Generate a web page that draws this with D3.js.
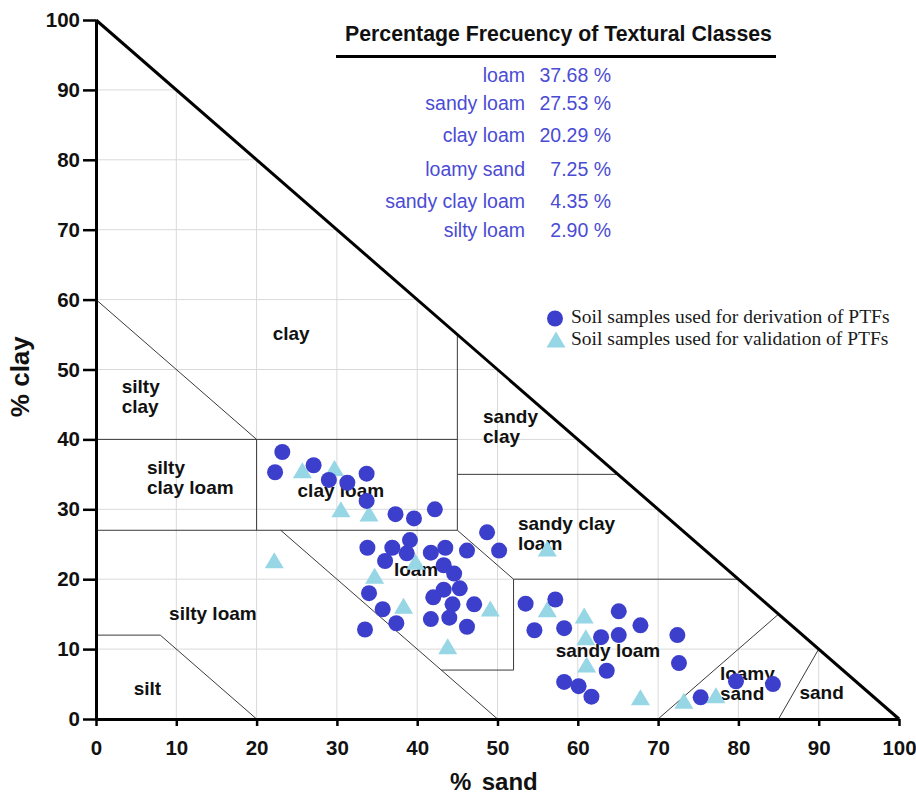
<!DOCTYPE html>
<html>
<head>
<meta charset="utf-8">
<script src="https://cdn.jsdelivr.net/npm/d3@7"></script>
<style>
  html, body { margin: 0; padding: 0; background: #fff; }
  svg { display: block; }
</style>
</head>
<body>
<script>
// ---------------- DATA ----------------
const sandTicks = [0, 10, 20, 30, 40, 50, 60, 70, 80, 90, 100];
const clayTicks = [0, 10, 20, 30, 40, 50, 60, 70, 80, 90, 100];

// Soil samples used for derivation of PTFs (% sand, % clay)
const derivationSand = [23.2, 22.3, 27.1, 29.0, 31.3, 33.7, 33.7, 37.3, 39.6, 42.2, 48.7, 50.2,
  33.8, 36.9, 39.1, 38.7, 36.0, 41.7, 43.5, 46.2, 43.3, 44.6, 43.3, 45.3, 42.0, 44.4, 47.1,
  34.0, 35.7, 37.4, 41.7, 44.0, 46.2, 33.5, 53.5, 57.2, 54.6, 58.3, 65.1, 62.9, 65.1, 67.8,
  72.4, 72.6, 63.6, 58.3, 60.1, 61.7, 75.3, 79.7, 84.3];
const derivationClay = [38.2, 35.3, 36.3, 34.2, 33.8, 35.1, 31.2, 29.3, 28.7, 30.0, 26.7, 24.1,
  24.5, 24.5, 25.6, 23.7, 22.6, 23.8, 24.5, 24.1, 22.0, 20.8, 18.5, 18.7, 17.4, 16.4, 16.4,
  18.0, 15.7, 13.7, 14.3, 14.5, 13.2, 12.8, 16.5, 17.1, 12.7, 13.0, 15.4, 11.7, 12.0, 13.4,
  12.0, 8.0, 6.9, 5.3, 4.7, 3.2, 3.1, 5.4, 5.0];

// Soil samples used for validation of PTFs (% sand, % clay)
const validationSand = [25.7, 29.7, 30.5, 34.0, 22.2, 34.7, 39.8, 38.3, 49.1, 43.8, 56.2, 56.2,
  60.8, 61.0, 61.1, 67.8, 73.2, 77.2];
const validationClay = [35.6, 35.9, 30.0, 29.4, 22.7, 20.5, 22.5, 16.2, 15.8, 10.4, 24.4, 15.7,
  14.8, 11.7, 7.8, 3.1, 2.6, 3.4];

// Percentage frequency of textural classes
const statClasses = ["loam", "sandy loam", "clay loam", "loamy sand", "sandy clay loam", "silty loam"];
const statPercent = [37.68, 27.53, 20.29, 7.25, 4.35, 2.90];

// USDA textural class boundaries, as [sand, clay] vertices
const classBoundaries = [
  [[0, 60], [20, 40]],
  [[0, 40], [45, 40]],
  [[20, 40], [20, 27]],
  [[0, 27], [45, 27]],
  [[45, 27], [45, 55]],
  [[45, 35], [65, 35]],
  [[45, 27], [52, 20]],
  [[52, 20], [80, 20]],
  [[52, 20], [52, 7], [43, 7]],
  [[23, 27], [50, 0]],
  [[0, 12], [8, 12], [20, 0]],
  [[70, 0], [85, 15]],
  [[85, 0], [90, 10]]
];

// Class names written inside the triangle, anchored at [sand, clay]
const classNames = [
  ["clay"], ["silty", "clay"], ["sandy", "clay"], ["silty", "clay loam"], ["clay loam"],
  ["sandy clay", "loam"], ["loam"], ["silty loam"], ["silt"], ["sandy loam"],
  ["loamy", "sand"], ["sand"]
];
const classNameSand = [22.0, 3.2, 48.2, 6.35, 25.1, 52.55, 37.1, 9.1, 4.7, 57.25, 77.7, 87.6];
const classNameClay = [54.2, 46.6, 42.4, 35.05, 31.8, 27.1, 20.4, 14.1, 3.4, 8.8, 5.6, 2.8];

const titleText = "Percentage Frecuency of Textural Classes";
const legendLabels = ["Soil samples used for derivation of PTFs", "Soil samples used for validation of PTFs"];

// ---------------- LAYOUT ----------------
const W = 916, H = 794;
const x = d3.scaleLinear().domain([0, 100]).range([96, 899]);
const y = d3.scaleLinear().domain([0, 100]).range([719, 20]);

const colDeriv = "#3c3ecc";
const colValid = "#96d6e5";
const colStat = "#4b4bd4";
const sansFont = "'Liberation Sans', Arial, Helvetica, sans-serif";
const serifFont = "'Liberation Serif', 'Times New Roman', serif";

const svg = d3.select("body").append("svg")
  .attr("width", W).attr("height", H)
  .attr("viewBox", `0 0 ${W} ${H}`);
svg.append("rect").attr("width", W).attr("height", H).attr("fill", "#fff");

const line = d3.line().x(d => x(d[0])).y(d => y(d[1]));

// Grid clipped to triangle
const gridVals = sandTicks.filter(t => t > 0 && t < 100);
const grid = svg.append("g").attr("stroke", "#d9d9d9").attr("stroke-width", 1).attr("fill", "none");
gridVals.forEach(t => {
  grid.append("path").attr("d", line([[t, 0], [t, 100 - t]]));
  grid.append("path").attr("d", line([[0, t], [100 - t, t]]));
});

// Class boundaries
svg.append("g").selectAll("path").data(classBoundaries).join("path")
  .attr("d", line)
  .attr("fill", "none")
  .attr("stroke", "#3a3a3a")
  .attr("stroke-width", 1);

// Axes
const xAxis = d3.axisBottom(x).tickValues(sandTicks).tickSizeInner(7).tickSizeOuter(0).tickPadding(14)
  .tickFormat(d3.format("d"));
const yAxis = d3.axisLeft(y).tickValues(clayTicks).tickSizeInner(13).tickSizeOuter(0).tickPadding(3)
  .tickFormat(d3.format("d"));

const gx = svg.append("g").attr("transform", `translate(0,${y(0)})`).call(xAxis);
const gy = svg.append("g").attr("transform", `translate(${x(0)},0)`).call(yAxis);
[gx, gy].forEach(g => {
  g.select(".domain").attr("stroke", "#000").attr("stroke-width", 3);
  g.selectAll(".tick line").attr("stroke", "#000").attr("stroke-width", 2.5);
  g.selectAll(".tick text")
    .attr("fill", "#111")
    .style("font-family", sansFont)
    .style("font-weight", "bold")
    .style("font-size", "20.5px");
});

// Hypotenuse
svg.append("path").attr("d", line([[0, 100], [100, 0]]))
  .attr("stroke", "#000").attr("stroke-width", 3).attr("fill", "none");

// Axis titles
svg.append("text")
  .attr("transform", `translate(28.5,${376.7}) rotate(-90)`)
  .attr("text-anchor", "middle")
  .style("font-family", sansFont).style("font-weight", "bold").style("font-size", "26px")
  .attr("fill", "#111")
  .text("% clay");
const xt = svg.append("text")
  .attr("y", 790)
  .style("font-family", sansFont).style("font-weight", "bold").style("font-size", "24px")
  .attr("fill", "#111");
xt.append("tspan").attr("x", 450).text("%");
xt.append("tspan").attr("x", 481.7).text("sand");

// Class names
const cn = svg.append("g")
  .style("font-family", sansFont).style("font-weight", "bold").style("font-size", "19px")
  .attr("fill", "#111");
classNames.forEach((lines, i) => {
  const t = cn.append("text").attr("x", x(classNameSand[i])).attr("y", y(classNameClay[i]));
  lines.forEach((s, j) => {
    t.append("tspan").attr("x", x(classNameSand[i])).attr("dy", j === 0 ? 0 : 20).text(s);
  });
});

// Markers
const triSide = 19, triH = 16;
function triPath(cx, cy) {
  const p = d3.path();
  p.moveTo(cx, cy - triH / 2);
  p.lineTo(cx + triSide / 2, cy + triH / 2);
  p.lineTo(cx - triSide / 2, cy + triH / 2);
  p.closePath();
  return p.toString();
}
svg.append("g").selectAll("path").data(validationSand).join("path")
  .attr("d", (d, i) => triPath(x(d), y(validationClay[i])))
  .attr("fill", colValid);

svg.append("g").selectAll("circle").data(derivationSand).join("circle")
  .attr("cx", d => x(d))
  .attr("cy", (d, i) => y(derivationClay[i]))
  .attr("r", 8)
  .attr("fill", colDeriv);

// Title + underline
svg.append("text")
  .attr("x", 345).attr("y", 40.7)
  .style("font-family", sansFont).style("font-weight", "bold").style("font-size", "21.3px")
  .attr("fill", "#111")
  .text(titleText);
svg.append("line").attr("x1", 336).attr("x2", 776).attr("y1", 56.5).attr("y2", 56.5)
  .attr("stroke", "#000").attr("stroke-width", 3);

// Stats table
const statRowY = [81.7, 110, 141.7, 175.7, 207.7, 236.7];
const stats = svg.append("g")
  .style("font-family", sansFont).style("font-size", "19.5px").attr("fill", colStat);
statClasses.forEach((c, i) => {
  stats.append("text").attr("x", 525).attr("y", statRowY[i]).attr("text-anchor", "end").text(c);
  stats.append("text").attr("x", 611).attr("y", statRowY[i]).attr("text-anchor", "end")
    .text(d3.format(".2f")(statPercent[i]) + " %");
});

// Legend
const leg = svg.append("g");
leg.append("circle").attr("cx", 555).attr("cy", 318.5).attr("r", 8).attr("fill", colDeriv);
leg.append("path").attr("d", triPath(556, 339.5)).attr("fill", colValid);
legendLabels.forEach((s, i) => {
  leg.append("text").attr("x", 571).attr("y", 323 + i * 22)
    .style("font-family", serifFont).style("font-size", "19.5px").attr("fill", "#1a1a1a")
    .text(s);
});
</script>
</body>
</html>
